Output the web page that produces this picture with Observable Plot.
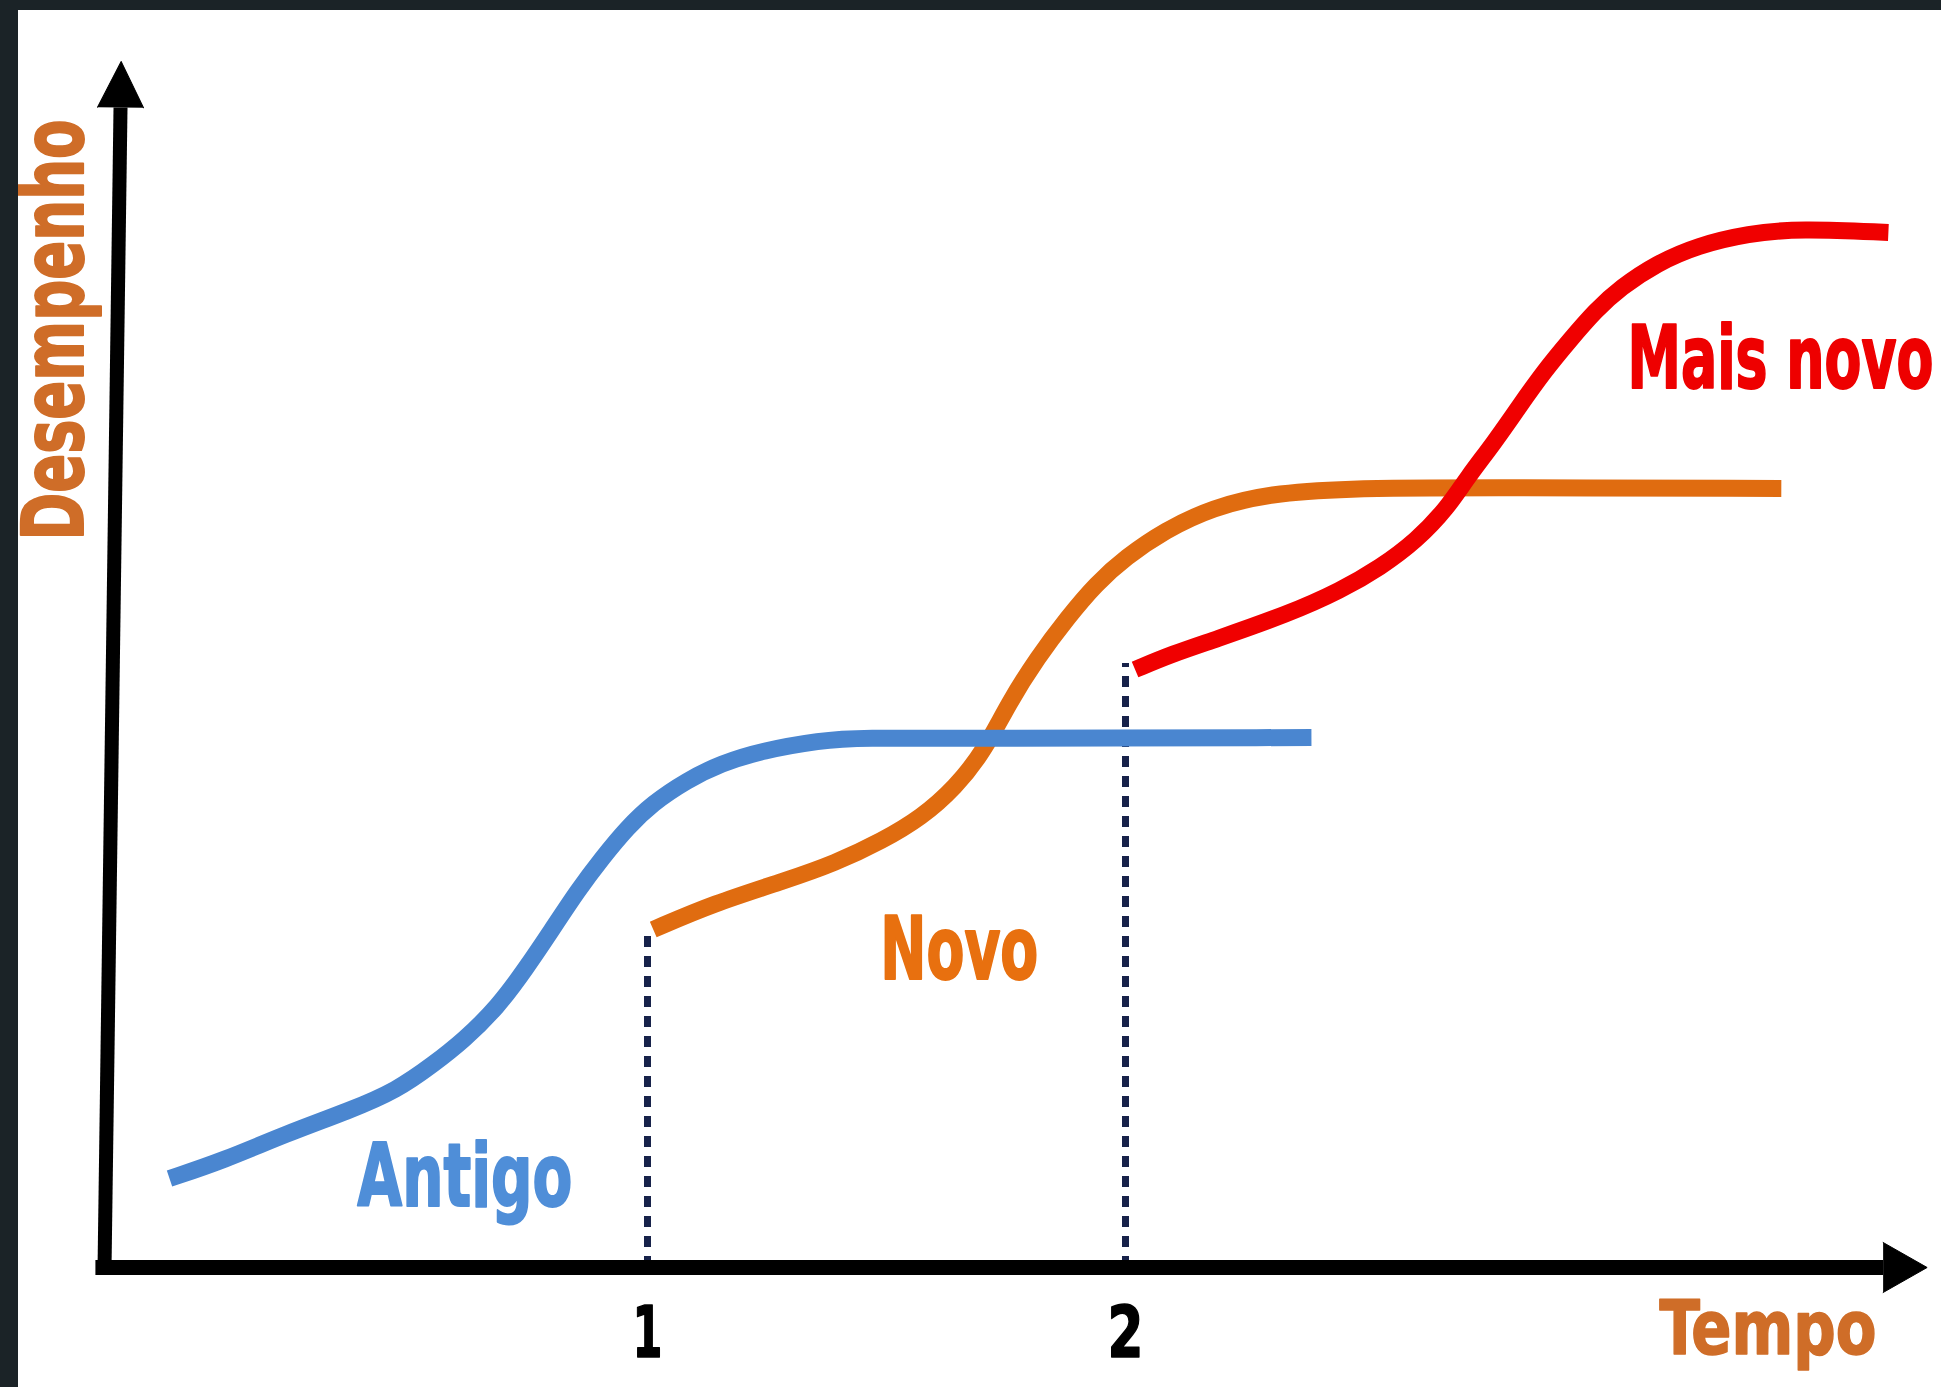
<!DOCTYPE html>
<html>
<head>
<meta charset="utf-8">
<script src="https://cdn.jsdelivr.net/npm/d3@7"></script>
<script src="https://cdn.jsdelivr.net/npm/@observablehq/plot@0.6"></script>
<style>
  html, body { margin: 0; padding: 0; background: #1b2327; overflow: hidden; width: 1941px; height: 1387px; }
  #frame { position: absolute; left: 18px; top: 10px; width: 1923px; height: 1377px; background: #ffffff; overflow: hidden; }
</style>
</head>
<body>
<div id="frame"></div>
<script>
// ---- Data (time units: tick 1 and tick 2; performance in arbitrary units) ----
const antigoT = [0.00, 0.113, 0.245, 0.377, 0.475, 0.554, 0.615, 0.686, 0.747, 0.799, 0.854, 0.906, 0.958, 1.010, 1.082, 1.153, 1.241, 1.362, 1.441, 1.695, 2.389];
const antigoV = [0.89, 1.07, 1.34, 1.57, 1.77, 2.04, 2.27, 2.60, 3.00, 3.37, 3.77, 4.10, 4.40, 4.64, 4.87, 5.04, 5.17, 5.27, 5.30, 5.29, 5.30];

const novoT = [1.012, 1.138, 1.289, 1.391, 1.492, 1.573, 1.644, 1.705, 1.755, 1.816, 1.879, 1.939, 2.000, 2.082, 2.182, 2.303, 2.456, 2.715, 3.372];
const novoV = [3.38, 3.64, 3.87, 4.04, 4.27, 4.50, 4.80, 5.17, 5.64, 6.10, 6.50, 6.84, 7.10, 7.37, 7.60, 7.74, 7.79, 7.80, 7.79];

const maisNovoT = [2.020, 2.100, 2.182, 2.343, 2.450, 2.533, 2.609, 2.674, 2.715, 2.770, 2.822, 2.877, 2.929, 2.983, 3.036, 3.111, 3.197, 3.303, 3.410, 3.596];
const maisNovoV = [5.98, 6.14, 6.27, 6.54, 6.77, 7.00, 7.27, 7.60, 7.90, 8.24, 8.60, 8.97, 9.27, 9.57, 9.80, 10.04, 10.22, 10.34, 10.39, 10.35];

// vertical dotted markers at the switch moments (time, height reached)
const switchT = [1, 2];
const switchV = [3.33, 6.04];

// tick labels
const tickValues = [1, 2];
const tickLabels = ["1", "2"];

// series labels
const seriesNames = ["Antigo", "Novo", "Mais novo"];
const seriesLabelT = [0.393, 1.487, 3.050];
const seriesLabelV = [0.62, 2.89, 8.80];

// axis titles
const xTitle = "Tempo";
const yTitle = "Desempenho";

// axis geometry (data units)
const yAxisT = [-0.136, -0.1025];
const yAxisV = [-0.03, 11.60];
const xAxisT = [-0.155, 3.585];
const xAxisV = [0, 0];

// ---- Build tables ----
const toRows = (ts, vs) => ts.map((t, i) => ({t, v: vs[i]}));
const antigo = toRows(antigoT, antigoV);
const novo = toRows(novoT, novoV);
const maisNovo = toRows(maisNovoT, maisNovoV);
const switches = switchT.map((t, i) => ({t, v: switchV[i]}));
const ticks = tickValues.map((t, i) => ({t, label: tickLabels[i]}));
const labelColors = ["#4f8ed8", "#e8700f", "#ee0000"];
const seriesLabels = seriesNames.map((name, i) => ({name, t: seriesLabelT[i], v: seriesLabelV[i], color: labelColors[i]}));

const FONT = "'Liberation Sans Narrow', 'Arial Narrow', 'DejaVu Sans Condensed', 'DejaVu Sans', sans-serif";

const chart = Plot.plot({
  width: 1923,
  height: 1377,
  margin: 0,
  x: {domain: [0, 3], range: [151, 1585], axis: null},
  y: {domain: [0, 12], range: [1257, 57], axis: null},
  style: {background: "white", fontFamily: FONT},
  marks: [
    // dotted verticals
    Plot.ruleX(switches, {x: "t", y1: 0, y2: "v", stroke: "#17224a", strokeWidth: 7, strokeDasharray: "11,9"}),
    // curves
    Plot.line(novo, {x: "t", y: "v", curve: "basis", stroke: "#e06c10", strokeWidth: 17, strokeLinecap: "butt"}),
    Plot.line(antigo, {x: "t", y: "v", curve: "basis", stroke: "#4a86d0", strokeWidth: 17, strokeLinecap: "butt"}),
    Plot.line(maisNovo, {x: "t", y: "v", curve: "basis", stroke: "#f00000", strokeWidth: 17, strokeLinecap: "butt"}),
    // axes
    Plot.link([0], {x1: () => yAxisT[0], y1: () => yAxisV[0], x2: () => yAxisT[1], y2: () => yAxisV[1], stroke: "black", strokeWidth: 14}),
    Plot.link([0], {x1: () => xAxisT[0], y1: () => xAxisV[0], x2: () => xAxisT[1], y2: () => xAxisV[1], stroke: "black", strokeWidth: 15}),
    Plot.vector([0], {x: () => yAxisT[1], y: () => yAxisV[1], length: 46, r: 23, rotate: 0.8, shape: "spike", anchor: "start", stroke: "black", fill: "black", strokeWidth: 1}),
    Plot.vector([0], {x: () => xAxisT[1], y: () => xAxisV[1], length: 44, r: 25, rotate: 90, shape: "spike", anchor: "start", stroke: "black", fill: "black", strokeWidth: 1}),
    // tick labels
    Plot.text(ticks, {x: "t", y: -0.89, text: "label", fontSize: 72, fontWeight: "bold", fill: "#000", stroke: "#000", strokeWidth: 1.5, lineAnchor: "bottom", textAnchor: "middle"}),
    // series labels
    Plot.text(seriesLabels, {x: "t", y: "v", text: "name", fill: "color", stroke: "color", strokeWidth: 2, fontSize: 88, fontWeight: "bold", lineAnchor: "bottom", textAnchor: "start"}),
    // axis titles
    Plot.text([xTitle], {x: 3.117, y: -0.86, text: d => d, fill: "#cf6d28", stroke: "#cf6d28", strokeWidth: 1.5, fontSize: 74, fontWeight: "bold", lineAnchor: "bottom", textAnchor: "start"}),
    Plot.text([yTitle], {x: -0.182, y: 7.27, text: d => d, rotate: -90, fill: "#cf6d28", stroke: "#cf6d28", strokeWidth: 2, fontSize: 86, fontWeight: "bold", lineAnchor: "bottom", textAnchor: "start"})
  ]
});

// condensed look: fit each label to the width it takes in the original
const fitWidths = {"Antigo": 215, "Novo": 158, "Mais novo": 306, "Tempo": 217, "Desempenho": 421, "1": 30, "2": 36};
d3.select(chart).selectAll("text").each(function() {
  const w = fitWidths[this.textContent];
  if (w) {
    this.setAttribute("textLength", w);
    this.setAttribute("lengthAdjust", "spacingAndGlyphs");
  }
});
document.getElementById("frame").appendChild(chart);
</script>
</body>
</html>
